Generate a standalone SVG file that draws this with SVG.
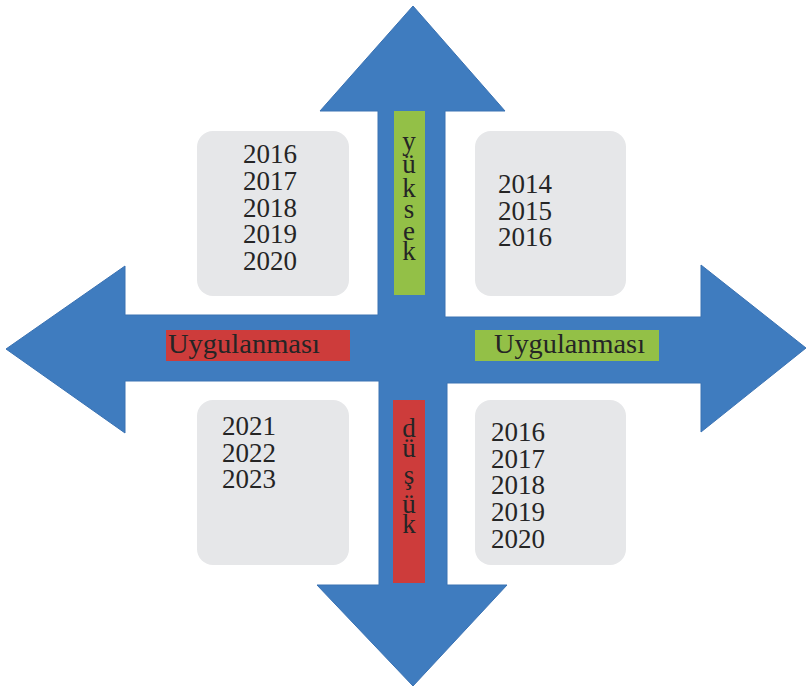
<svg xmlns="http://www.w3.org/2000/svg" width="806" height="686" viewBox="0 0 806 686">
<style>
.box{fill:#e6e7e9}
.t{font-family:"Liberation Serif","DejaVu Serif",serif;font-size:27px;fill:#252525}
.v{font-family:"Liberation Serif","DejaVu Serif",serif;font-size:27px;fill:#252525;text-anchor:middle}
.lab{font-family:"Liberation Serif","DejaVu Serif",serif;font-size:28px;fill:#252525}
</style>
<rect width="806" height="686" fill="#ffffff"/>
<g id="connectors">
<path id="cross-arrow" d="M413,6 L505,111 L445,111 L445,317 L701,317 L701,265 L806,348 L701,432 L701,383 L447,383 L447,585 L507,585 L413,686 L317,585 L379,585 L379,381 L125,381 L125,433 L6,349 L125,266 L125,315 L378,315 L378,111 L320,111 Z" fill="#3f7cbf" stroke="#3a72b3" stroke-width="1"/>
</g>
<g id="box-top-left">
<rect class="box" x="197" y="131" width="152" height="165" rx="16"/>
<text class="t" x="243" y="163">2016</text>
<text class="t" x="243" y="190">2017</text>
<text class="t" x="243" y="217">2018</text>
<text class="t" x="243" y="243">2019</text>
<text class="t" x="243" y="270">2020</text>
</g>
<g id="box-top-right">
<rect class="box" x="475" y="131" width="151" height="165" rx="16"/>
<text class="t" x="498" y="193">2014</text>
<text class="t" x="498" y="220">2015</text>
<text class="t" x="498" y="246">2016</text>
</g>
<g id="box-bottom-left">
<rect class="box" x="197" y="400" width="152" height="165" rx="16"/>
<text class="t" x="222" y="435">2021</text>
<text class="t" x="222" y="462">2022</text>
<text class="t" x="222" y="488">2023</text>
</g>
<g id="box-bottom-right">
<rect class="box" x="475" y="400" width="151" height="165" rx="16"/>
<text class="t" x="491" y="441">2016</text>
<text class="t" x="491" y="468">2017</text>
<text class="t" x="491" y="494">2018</text>
<text class="t" x="491" y="521">2019</text>
<text class="t" x="491" y="548">2020</text>
</g>
<g id="label-yuksek">
<rect x="394" y="111" width="31" height="184" fill="#93c047"/>
<text class="v" x="409" y="150">y</text>
<text class="v" x="409" y="173">ü</text>
<text class="v" x="409" y="197">k</text>
<text class="v" x="409" y="218">s</text>
<text class="v" x="409" y="240">e</text>
<text class="v" x="409" y="260">k</text>
</g>
<g id="label-dusuk">
<rect x="393" y="400" width="32" height="183" fill="#cd3c3b"/>
<text class="v" x="409" y="437">d</text>
<text class="v" x="409" y="457">ü</text>
<text class="v" x="409" y="484">ş</text>
<text class="v" x="409" y="513">ü</text>
<text class="v" x="409" y="533">k</text>
</g>
<g id="label-left">
<rect x="166" y="330" width="184" height="31" fill="#cd3c3b"/>
<text class="lab" x="168" y="353" textLength="152" lengthAdjust="spacingAndGlyphs">Uygulanması</text>
</g>
<g id="label-right">
<rect x="475" y="330" width="184" height="31" fill="#93c047"/>
<text class="lab" x="494" y="353" textLength="151" lengthAdjust="spacingAndGlyphs">Uygulanması</text>
</g>
</svg>
